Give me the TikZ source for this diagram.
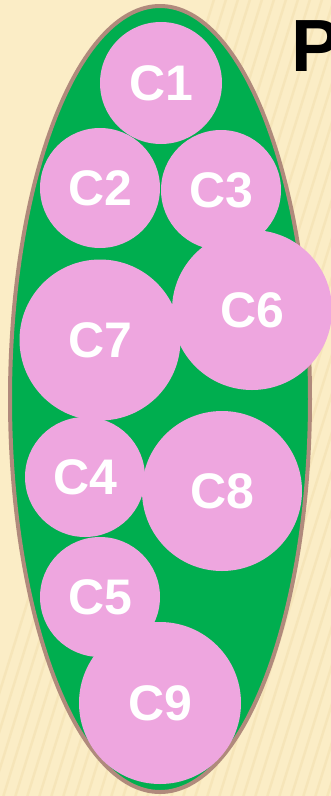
\documentclass[tikz,border=0pt]{standalone}
\usepackage{fontspec}
\setmainfont{Liberation Sans}
\usetikzlibrary{shapes.geometric}
\definecolor{bgy}{HTML}{FBEDC6}
\definecolor{bgs}{HTML}{F1DDAA}
\definecolor{cellg}{HTML}{00AE4F}
\definecolor{cellp}{HTML}{EEA6DF}
\definecolor{rimb}{HTML}{B08A7C}
\begin{document}
\begin{tikzpicture}[x=1pt,y=-1pt,
  cellc/.style={circle,fill=cellp,inner sep=0pt,text=white,font=\fontsize{50}{50}\selectfont\bfseries}]
\useasboundingbox (0,0) rectangle (331,796);
\fill[bgy] (0,0) rectangle (331,796);
\begin{scope}
\clip (0,0) rectangle (331,796);
\foreach \i in {-40,-28,...,560}{
  \draw[bgs,line width=2.5pt,opacity=0.45] (\i,820) -- (\i+260,-20);
}
\end{scope}
\node[ellipse,draw=rimb,fill=cellg,line width=4pt,minimum width=300pt,minimum height=786pt,inner sep=0pt] (cell) at (160,399) {};
\node[cellc,minimum size=122pt] (c1) at (161,83) {C1};
\node[cellc,minimum size=120pt] (c2) at (100,188) {C2};
\node[cellc,minimum size=120pt] (c3) at (221,190) {C3};
\node[cellc,minimum size=161pt] (c7) at (100,340) {C7};
\node[cellc,minimum size=160pt] (c6) at (252,310) {C6};
\node[cellc,minimum size=120pt] (c4) at (85,477) {C4};
\node[cellc,minimum size=160pt] (c8) at (222,491) {C8};
\node[cellc,minimum size=120pt] (c5) at (100,597) {C5};
\node[cellc,minimum size=162pt] (c9) at (160,703) {C9};
\node[anchor=north west,inner sep=0pt,font=\fontsize{74}{74}\selectfont\bfseries] (p) at (291,20) {P};
\end{tikzpicture}
\end{document}
